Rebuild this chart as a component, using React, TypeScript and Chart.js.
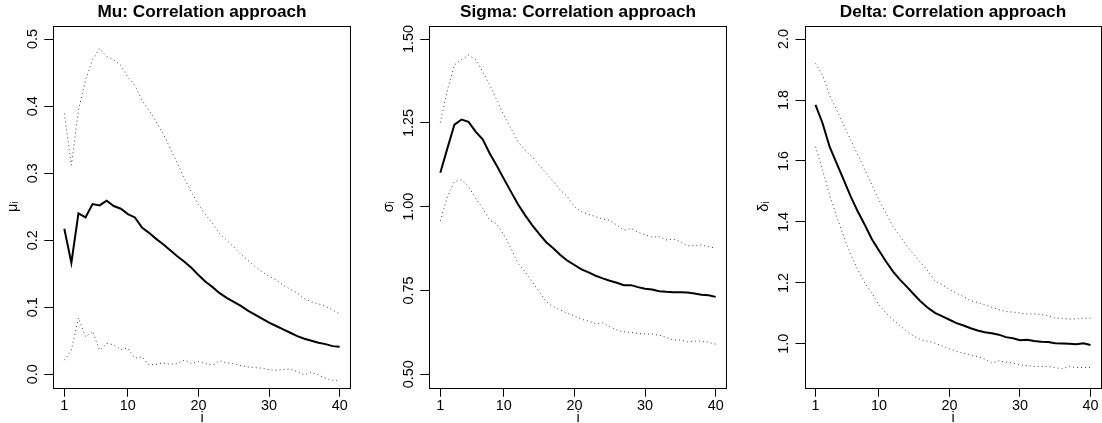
import React, { useEffect, useRef } from "react";
import { Chart, registerables } from "chart.js";

Chart.register(...registerables);

// ---------- data ----------
const I = [1, 2, 3, 4, 5, 6, 7, 8, 9, 10, 11, 12, 13, 14, 15, 16, 17, 18, 19, 20,
  21, 22, 23, 24, 25, 26, 27, 28, 29, 30, 31, 32, 33, 34, 35, 36, 37, 38, 39, 40];

const MU_MEAN = [0.217, 0.166, 0.240, 0.234, 0.254, 0.252, 0.259, 0.251, 0.247, 0.239,
  0.234, 0.219, 0.211, 0.202, 0.194, 0.185, 0.176, 0.168, 0.159, 0.148,
  0.138, 0.130, 0.121, 0.114, 0.108, 0.102, 0.095, 0.089, 0.083, 0.077,
  0.072, 0.067, 0.062, 0.057, 0.053, 0.050, 0.047, 0.045, 0.042, 0.041];
const MU_UPPER = [0.389, 0.312, 0.394, 0.439, 0.469, 0.486, 0.474, 0.469, 0.461, 0.443,
  0.431, 0.409, 0.394, 0.377, 0.359, 0.337, 0.315, 0.292, 0.272, 0.253,
  0.238, 0.225, 0.210, 0.200, 0.190, 0.179, 0.170, 0.161, 0.153, 0.146,
  0.141, 0.133, 0.127, 0.121, 0.113, 0.108, 0.105, 0.101, 0.096, 0.090];
const MU_LOWER = [0.021, 0.036, 0.084, 0.056, 0.064, 0.036, 0.046, 0.044, 0.037, 0.039,
  0.024, 0.026, 0.014, 0.015, 0.017, 0.015, 0.016, 0.021, 0.016, 0.019,
  0.016, 0.014, 0.020, 0.017, 0.016, 0.013, 0.011, 0.010, 0.009, 0.007,
  0.006, 0.007, 0.008, 0.004, -0.001, 0.003, -0.001, -0.006, -0.009, -0.009];

const SIGMA_MEAN = [1.101, 1.174, 1.245, 1.260, 1.253, 1.224, 1.201, 1.159, 1.122, 1.083,
  1.045, 1.007, 0.975, 0.945, 0.919, 0.894, 0.876, 0.856, 0.839, 0.826,
  0.813, 0.804, 0.794, 0.786, 0.779, 0.773, 0.766, 0.766, 0.760, 0.755,
  0.753, 0.748, 0.746, 0.745, 0.745, 0.744, 0.741, 0.737, 0.736, 0.731];
const SIGMA_UPPER = [1.251, 1.348, 1.423, 1.439, 1.452, 1.439, 1.403, 1.363, 1.318, 1.273,
  1.234, 1.194, 1.169, 1.149, 1.124, 1.099, 1.075, 1.050, 1.030, 1.000,
  0.985, 0.977, 0.970, 0.963, 0.960, 0.945, 0.930, 0.935, 0.924, 0.916,
  0.909, 0.911, 0.901, 0.903, 0.896, 0.883, 0.884, 0.886, 0.881, 0.876];
const SIGMA_LOWER = [0.958, 1.030, 1.075, 1.080, 1.060, 1.025, 0.995, 0.960, 0.948, 0.916,
  0.876, 0.831, 0.806, 0.776, 0.747, 0.717, 0.702, 0.692, 0.682, 0.674,
  0.664, 0.659, 0.650, 0.654, 0.642, 0.632, 0.627, 0.625, 0.622, 0.620,
  0.620, 0.617, 0.610, 0.602, 0.602, 0.597, 0.599, 0.599, 0.595, 0.590];

const DELTA_MEAN = [1.784, 1.724, 1.647, 1.592, 1.538, 1.483, 1.434, 1.390, 1.343, 1.306,
  1.270, 1.237, 1.210, 1.186, 1.161, 1.137, 1.117, 1.101, 1.090, 1.079,
  1.068, 1.060, 1.051, 1.044, 1.038, 1.035, 1.030, 1.022, 1.018, 1.012,
  1.013, 1.009, 1.007, 1.006, 1.002, 1.001, 1.000, 0.999, 1.002, 0.996];
const DELTA_UPPER = [1.920, 1.882, 1.816, 1.767, 1.718, 1.669, 1.620, 1.571, 1.521, 1.472,
  1.428, 1.385, 1.352, 1.319, 1.292, 1.265, 1.237, 1.204, 1.193, 1.179,
  1.166, 1.155, 1.141, 1.136, 1.128, 1.120, 1.112, 1.106, 1.104, 1.101,
  1.098, 1.098, 1.096, 1.093, 1.084, 1.084, 1.081, 1.082, 1.084, 1.084];
const DELTA_LOWER = [1.647, 1.571, 1.489, 1.418, 1.352, 1.292, 1.243, 1.199, 1.166, 1.128,
  1.101, 1.079, 1.059, 1.040, 1.024, 1.013, 1.008, 1.002, 0.993, 0.983,
  0.975, 0.969, 0.964, 0.958, 0.950, 0.937, 0.944, 0.940, 0.937, 0.931,
  0.928, 0.926, 0.926, 0.926, 0.922, 0.918, 0.926, 0.922, 0.922, 0.922];

const X_TICKS = [1, 10, 20, 30, 40];
const MU_TICKS = [0, 0.1, 0.2, 0.3, 0.4, 0.5];
const MU_TICK_LABELS = ["0.0", "0.1", "0.2", "0.3", "0.4", "0.5"];
const SIGMA_TICKS = [0.5, 0.75, 1.0, 1.25, 1.5];
const SIGMA_TICK_LABELS = ["0.50", "0.75", "1.00", "1.25", "1.50"];
const DELTA_TICKS = [1.0, 1.2, 1.4, 1.6, 1.8, 2.0];
const DELTA_TICK_LABELS = ["1.0", "1.2", "1.4", "1.6", "1.8", "2.0"];

const TITLES = ["Mu: Correlation approach", "Sigma: Correlation approach", "Delta: Correlation approach"];
const Y_TITLES = ["μᵢ", "σᵢ", "δᵢ"];
const X_TITLE = "i";

// ---------- style / layout ----------
const FAMILY = "'Liberation Sans', Arial, Helvetica, sans-serif";
const TICK_SIZE = 14.4;
const TITLE_SIZE = 17.2;
const X_AXIS_H = 35.3;
const TICK_LEN = 9;

type PanelCfg = {
  left: number; width: number; yWidth: number; padRight: number;
  yMin: number; yMax: number; yTicks: number[]; yLabels: string[];
  title: string; yTitle: string; mean: number[]; upper: number[]; lower: number[];
};

const PANELS: PanelCfg[] = [
  { left: 0, width: 367, yWidth: 53.3, padRight: 16.3, yMin: -0.02, yMax: 0.52,
    yTicks: MU_TICKS, yLabels: MU_TICK_LABELS, title: TITLES[0], yTitle: Y_TITLES[0],
    mean: MU_MEAN, upper: MU_UPPER, lower: MU_LOWER },
  { left: 367, width: 368, yWidth: 62.3, padRight: 8.3, yMin: 0.46, yMax: 1.54,
    yTicks: SIGMA_TICKS, yLabels: SIGMA_TICK_LABELS, title: TITLES[1], yTitle: Y_TITLES[1],
    mean: SIGMA_MEAN, upper: SIGMA_UPPER, lower: SIGMA_LOWER },
  { left: 735, width: 367, yWidth: 69.5, padRight: 0.5, yMin: 0.856, yMax: 2.044,
    yTicks: DELTA_TICKS, yLabels: DELTA_TICK_LABELS, title: TITLES[2], yTitle: Y_TITLES[2],
    mean: DELTA_MEAN, upper: DELTA_UPPER, lower: DELTA_LOWER },
];

const boxPlugin = {
  id: "rbox",
  afterDraw(chart: any) {
    const { ctx, chartArea: a } = chart;
    const l = Math.round(a.left), t = Math.round(a.top);
    const r = Math.round(a.right), b = Math.round(a.bottom);
    ctx.save();
    ctx.strokeStyle = "#000";
    ctx.lineWidth = 1;
    ctx.strokeRect(l + 0.5, t + 0.5, r - l - 1, b - t);
    ctx.restore();
  },
};

function Panel({ cfg }: { cfg: PanelCfg }) {
  const ref = useRef<HTMLCanvasElement>(null);
  useEffect(() => {
    const canvas = ref.current!;
    const meas = document.createElement("canvas").getContext("2d")!;
    meas.font = `${TICK_SIZE}px ${FAMILY}`;
    const widest = Math.max(...cfg.yLabels.map((s) => meas.measureText(s).width));
    const pts = (arr: number[]) => I.map((x, k) => ({ x, y: arr[k] }));
    const yLabel = (v: number) => {
      const k = cfg.yTicks.findIndex((t) => Math.abs(t - v) < 1e-9);
      return k >= 0 ? cfg.yLabels[k] : "";
    };
    const lineH = TICK_SIZE * 1.2;
    const dotted = { borderColor: "rgba(0,0,0,0.75)", borderWidth: 1, borderDash: [1, 3], pointRadius: 0, tension: 0, fill: false };
    const chart = new Chart(canvas, {
      type: "line",
      data: {
        datasets: [
          { data: pts(cfg.upper), ...dotted },
          { data: pts(cfg.lower), ...dotted },
          { data: pts(cfg.mean), borderColor: "#000", borderWidth: 2, pointRadius: 0, tension: 0, fill: false },
        ],
      },
      options: {
        animation: false,
        responsive: false,
        devicePixelRatio: 1,
        events: [],
        layout: { padding: { left: 0, right: cfg.padRight, top: 0, bottom: 0 } },
        plugins: {
          legend: { display: false },
          tooltip: { enabled: false },
          title: {
            display: true,
            text: cfg.title,
            fullSize: false,
            color: "#000",
            font: { size: TITLE_SIZE, weight: "bold", family: FAMILY, lineHeight: 1.2 },
            padding: { top: 1.5, bottom: 25.7 - TITLE_SIZE * 1.2 - 1.5 },
          },
        },
        scales: {
          x: {
            type: "linear",
            min: -0.56,
            max: 41.56,
            bounds: "data",
            afterBuildTicks: (s: any) => { s.ticks = X_TICKS.map((v) => ({ value: v })); },
            afterFit: (s: any) => { s.height = X_AXIS_H; },
            ticks: {
              autoSkip: false, minRotation: 0, maxRotation: 0, padding: 0.6, color: "#000",
              font: { size: TICK_SIZE, family: FAMILY },
              callback: (v: any) => String(v),
            },
            grid: { drawOnChartArea: false, drawTicks: true, tickLength: TICK_LEN, color: "#000", lineWidth: 1 },
            border: { display: false },
            title: {
              display: true, text: X_TITLE, color: "#000",
              font: { size: TICK_SIZE, family: FAMILY, lineHeight: 1.2 },
              padding: { top: 0, bottom: -3.2 },
            },
          },
          y: {
            type: "linear",
            min: cfg.yMin,
            max: cfg.yMax,
            bounds: "data",
            afterBuildTicks: (s: any) => { s.ticks = cfg.yTicks.map((v) => ({ value: v })); },
            afterFit: (s: any) => { s.width = cfg.yWidth; },
            ticks: {
              autoSkip: false, minRotation: 90, maxRotation: 90, crossAlign: "center",
              padding: 20 - TICK_LEN - widest / 2, color: "#000",
              font: { size: TICK_SIZE, family: FAMILY },
              callback: (v: any) => yLabel(Number(v)),
            },
            grid: { drawOnChartArea: false, drawTicks: true, tickLength: TICK_LEN, color: "#000", lineWidth: 1 },
            border: { display: false },
            title: {
              display: true, text: cfg.yTitle, color: "#000",
              font: { size: TICK_SIZE, family: FAMILY, lineHeight: 1.2 },
              padding: { top: cfg.yWidth - 40 - lineH / 2, bottom: 0 },
            },
          },
        },
      } as any,
      plugins: [boxPlugin],
    });
    return () => chart.destroy();
  }, [cfg]);
  return (
    <canvas
      ref={ref}
      width={cfg.width}
      height={423}
      style={{ position: "absolute", left: cfg.left, top: 0, width: cfg.width, height: 423 }}
    />
  );
}

export default function App() {
  return (
    <div style={{ position: "absolute", left: 0, top: 0, width: 1102, height: 423, background: "#fff", overflow: "hidden" }}>
      {PANELS.map((p, i) => (
        <Panel key={i} cfg={p} />
      ))}
    </div>
  );
}
